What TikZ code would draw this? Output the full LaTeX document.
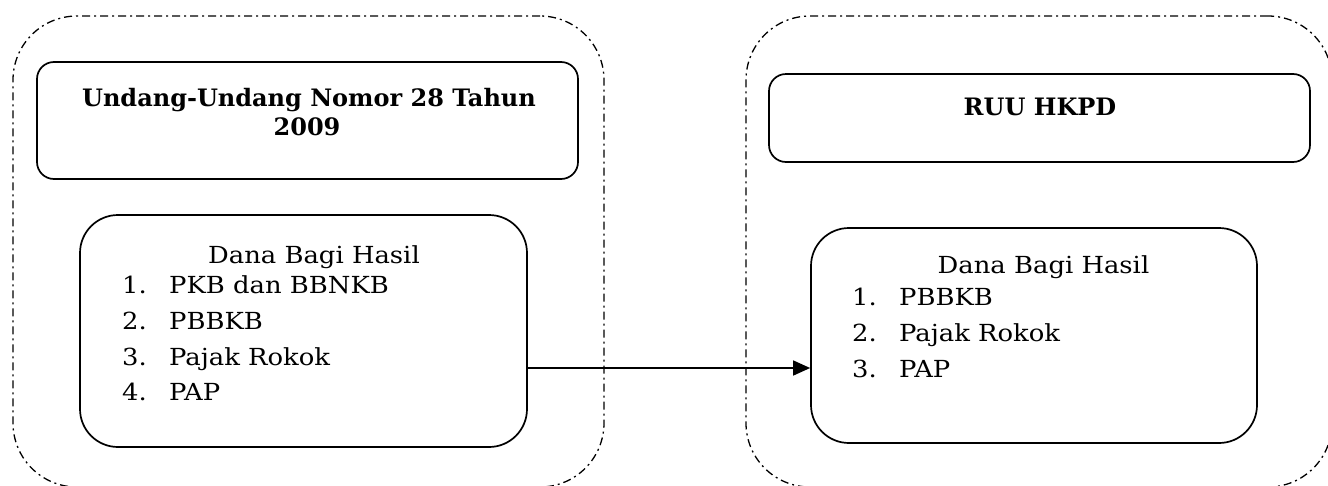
\documentclass[tikz,border=0pt]{standalone}
\usepackage{fontspec}
\setmainfont{DejaVu Serif}
\newfontfamily\bodyfont[FakeStretch=1.1]{DejaVu Serif}
\usetikzlibrary{arrows.meta}
\begin{document}
\begin{tikzpicture}[x=1pt,y=-1pt,
  group/.style={draw, line width=1.3pt, dash pattern=on 8pt off 4pt on 2pt off 4pt, rounded corners=64pt, inner sep=0pt},
  titlebox/.style={draw, line width=1.7pt, rounded corners=17pt, inner sep=0pt},
  listbox/.style={draw, line width=1.7pt, rounded corners=38pt, inner sep=0pt},
  titletext/.style={font=\fontsize{24}{29}\selectfont\bfseries, anchor=base, inner sep=0pt},
  headtext/.style={font=\bodyfont\fontsize{23.5}{28}\selectfont, anchor=base, inner sep=0pt},
  bodytext/.style={font=\bodyfont\fontsize{23.5}{28}\selectfont, anchor=base west, inner sep=0pt},
  link/.style={line width=1.5pt, -{Triangle[length=17pt,width=15pt]}}]
\useasboundingbox (0,0) rectangle (1328,485);
% groups
\node[group, minimum width=591pt, minimum height=471pt] (g1) at (308.5,251.5) {};
\node[group, minimum width=586pt, minimum height=471pt] (g2) at (1039,251.5) {};
% title boxes
\node[titlebox, minimum width=541pt, minimum height=117pt] (tb1) at (307.5,120.5) {};
\node[titlebox, minimum width=541pt, minimum height=88pt] (tb2) at (1039.5,118) {};
\node[titletext] (t1a) at (309,106) {Undang-Undang Nomor 28 Tahun};
\node[titletext] (t1b) at (307,135) {2009};
\node[titletext] (t2) at (1040,115) {RUU HKPD};
% list boxes
\node[listbox, minimum width=447pt, minimum height=232pt] (in1) at (303.5,331) {};
\node[listbox, minimum width=446pt, minimum height=215pt] (in2) at (1034,335.5) {};
% left list
\node[headtext] (h1) at (314,263) {Dana Bagi Hasil};
\node[bodytext] (n11) at (122,293) {1.};
\node[bodytext] (i11) at (169,293) {PKB dan BBNKB};
\node[bodytext] (n12) at (122,329) {2.};
\node[bodytext] (i12) at (169,329) {PBBKB};
\node[bodytext] (n13) at (122,365) {3.};
\node[bodytext] (i13) at (169,365) {Pajak Rokok};
\node[bodytext] (n14) at (122,400) {4.};
\node[bodytext] (i14) at (169,400) {PAP};
% right list
\node[headtext] (h2) at (1043.5,273) {Dana Bagi Hasil};
\node[bodytext] (n21) at (852,305) {1.};
\node[bodytext] (i21) at (899,305) {PBBKB};
\node[bodytext] (n22) at (852,341) {2.};
\node[bodytext] (i22) at (899,341) {Pajak Rokok};
\node[bodytext] (n23) at (852,377) {3.};
\node[bodytext] (i23) at (899,377) {PAP};
% connector
\coordinate (a0) at ([yshift=-37pt]in1.east);
\draw[link] (a0) -- (a0 -| in2.west);
\end{tikzpicture}
\end{document}
